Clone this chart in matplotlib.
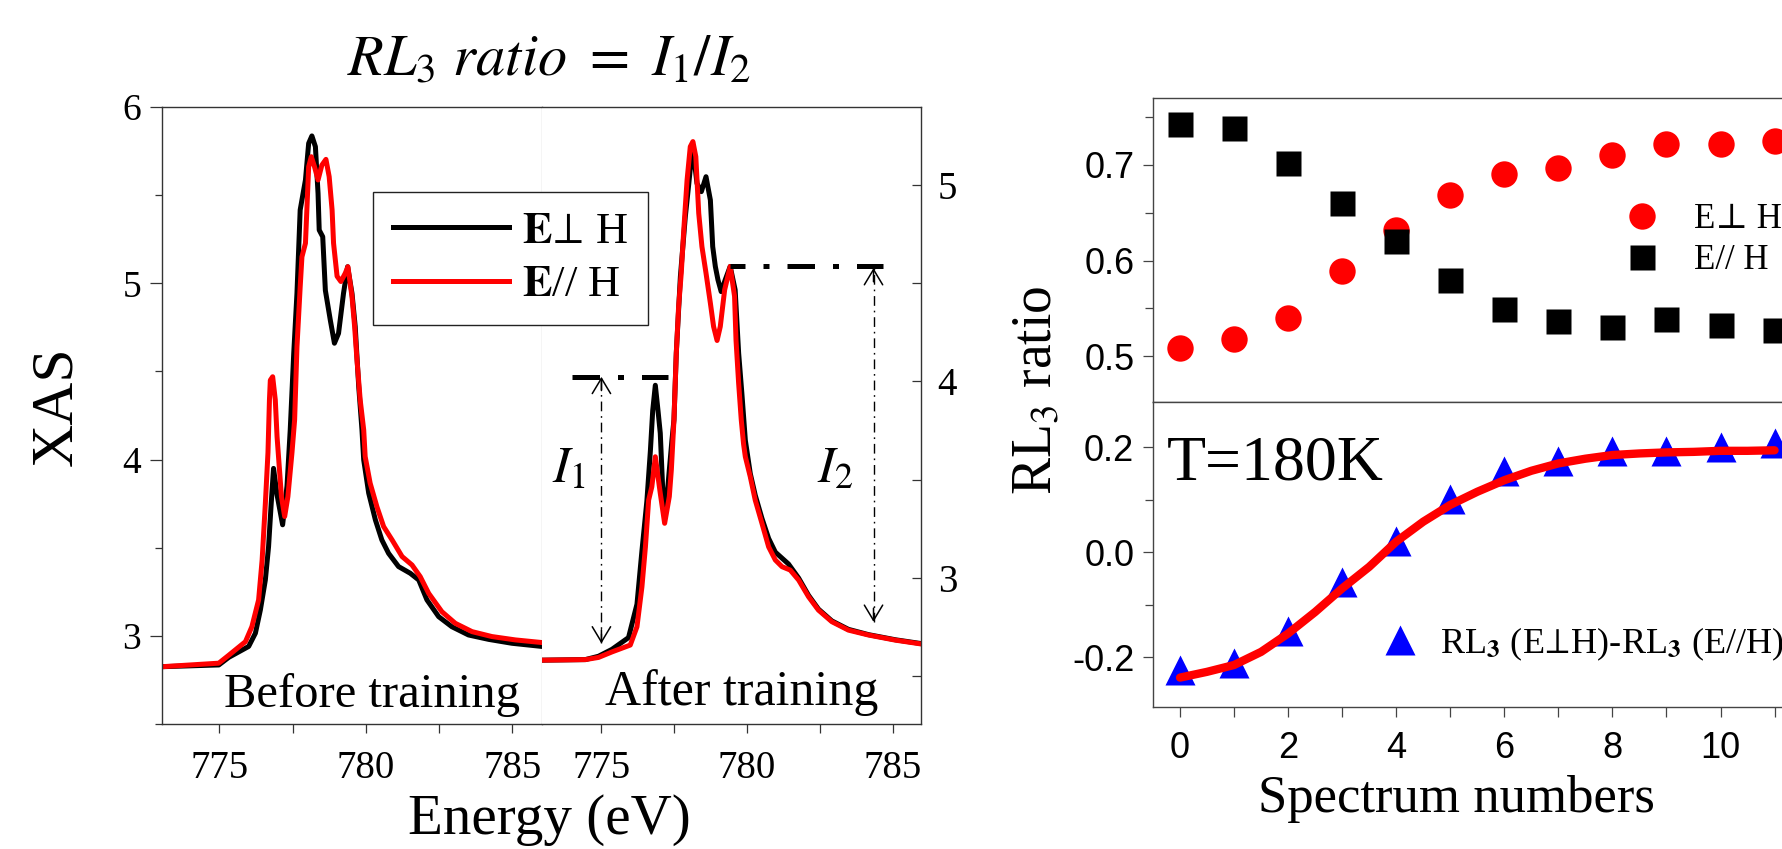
import matplotlib
matplotlib.use("Agg")
import matplotlib.pyplot as plt
from matplotlib.lines import Line2D

# ---------------- data ----------------
# Before training (left sub-panel)
bt_black_E = [773.04, 774.98, 775.32, 776.00, 776.23, 776.40, 776.57, 776.68, 776.77, 776.85,
              776.97, 777.16, 777.31, 777.42, 777.54, 777.65, 777.76, 777.94, 778.05, 778.16,
              778.28, 778.37, 778.41, 778.53, 778.62, 778.79, 778.93, 779.07, 779.24, 779.38,
              779.53, 779.64, 779.76, 779.87, 779.93, 780.10, 780.33, 780.55, 780.78, 781.12,
              781.52, 781.81, 782.09, 782.49, 782.94, 783.51, 784.20, 784.99, 786.02]
bt_black_I = [2.825, 2.835, 2.878, 2.940, 3.015, 3.147, 3.317, 3.506, 3.750, 3.950,
              3.800, 3.630, 3.850, 4.168, 4.603, 4.943, 5.416, 5.586, 5.794, 5.836,
              5.775, 5.510, 5.302, 5.264, 4.960, 4.790, 4.660, 4.716, 4.943, 5.094,
              4.943, 4.754, 4.413, 4.170, 3.998, 3.810, 3.657, 3.544, 3.468, 3.393,
              3.355, 3.317, 3.204, 3.109, 3.052, 3.005, 2.980, 2.958, 2.940]

bt_red_E = [773.04, 774.98, 775.32, 775.89, 776.11, 776.34, 776.46, 776.57, 776.66, 776.71,
            776.74, 776.82, 776.91, 776.97, 777.12, 777.23, 777.34, 777.48, 777.57, 777.65,
            777.76, 777.82, 777.94, 778.05, 778.14, 778.25, 778.37, 778.50, 778.64, 778.75,
            778.85, 778.90, 779.02, 779.15, 779.30, 779.39, 779.53, 779.62, 779.70, 779.81,
            779.93, 779.98, 780.15, 780.38, 780.61, 780.90, 781.24, 781.58, 781.86, 782.15,
            782.60, 783.06, 783.63, 784.31, 785.11, 786.02]
bt_red_I = [2.825, 2.845, 2.890, 2.967, 3.052, 3.204, 3.430, 3.750, 4.040, 4.338,
            4.450, 4.470, 4.338, 4.130, 3.790, 3.677, 3.790, 4.040, 4.225, 4.640,
            4.980, 5.150, 5.227, 5.661, 5.718, 5.661, 5.586, 5.670, 5.703, 5.605,
            5.416, 5.227, 5.040, 5.010, 5.057, 5.094, 4.924, 4.754, 4.565, 4.338,
            4.168, 4.017, 3.866, 3.733, 3.620, 3.544, 3.450, 3.402, 3.336, 3.241,
            3.137, 3.071, 3.024, 2.996, 2.977, 2.962]

# After training (right sub-panel)
at_black_E = [772.96, 774.45, 774.90, 775.36, 775.93, 776.22, 776.39, 776.56, 776.68, 776.76,
              776.85, 776.94, 777.02, 777.10, 777.17, 777.28, 777.42, 777.49, 777.57, 777.71,
              777.88, 778.00, 778.08, 778.16, 778.28, 778.43, 778.59, 778.74, 778.82, 778.91,
              779.00, 779.11, 779.25, 779.42, 779.59, 779.71, 779.82, 779.94, 780.11, 780.28,
              780.51, 780.74, 780.97, 781.42, 781.77, 782.11, 782.45, 782.91, 783.48, 784.17,
              785.09, 786.00]
at_black_I = [2.580, 2.583, 2.600, 2.635, 2.695, 2.865, 3.136, 3.390, 3.645, 3.850,
              3.980, 3.854, 3.736, 3.463, 3.310, 3.463, 3.700, 3.804, 4.144, 4.533,
              4.839, 5.008, 5.127, 5.161, 5.008, 4.966, 5.042, 4.923, 4.686, 4.585,
              4.517, 4.457, 4.517, 4.585, 4.466, 4.144, 3.940, 3.700, 3.530, 3.420,
              3.302, 3.200, 3.130, 3.070, 2.998, 2.910, 2.840, 2.780, 2.737, 2.710,
              2.684, 2.664]

at_red_E = [772.96, 774.45, 774.90, 775.36, 775.99, 776.22, 776.39, 776.51, 776.62, 776.73,
            776.85, 777.02, 777.17, 777.33, 777.40, 777.49, 777.57, 777.65, 777.74, 777.82,
            777.94, 778.05, 778.14, 778.24, 778.34, 778.45, 778.59, 778.74, 778.85, 778.97,
            779.08, 779.23, 779.42, 779.57, 779.62, 779.71, 779.80, 779.88, 779.94, 780.11,
            780.28, 780.51, 780.74, 780.97, 781.20, 781.48, 781.77, 782.11, 782.45, 782.91,
            783.48, 784.17, 785.09, 786.00]
at_red_I = [2.580, 2.583, 2.594, 2.622, 2.657, 2.750, 2.953, 3.157, 3.395, 3.463,
            3.616, 3.430, 3.277, 3.413, 3.550, 3.804, 4.144, 4.382, 4.551, 4.755,
            5.025, 5.195, 5.221, 5.144, 4.856, 4.686, 4.551, 4.398, 4.279, 4.208,
            4.279, 4.466, 4.585, 4.433, 4.210, 3.990, 3.804, 3.680, 3.616, 3.514,
            3.395, 3.277, 3.157, 3.090, 3.056, 3.039, 2.988, 2.903, 2.835, 2.776,
            2.733, 2.708, 2.682, 2.662]

# I1 / I2 markers (right sub-panel)
i1_line_E = [773.99, 777.28]
i1_level = 4.023
i1_arrow_E = 775.0
i1_arrow_low = 2.665
i2_line_E = [779.42, 784.68]
i2_level = 4.589
i2_arrow_E = 784.34
i2_arrow_low = 2.775

# RL3 ratio vs spectrum number
spectrum = [0, 1, 2, 3, 4, 5, 6, 7, 8, 9, 10, 11]
ratio_perp = [0.509, 0.518, 0.540, 0.589, 0.632, 0.669, 0.691, 0.697, 0.710, 0.722, 0.722, 0.725]
ratio_par = [0.743, 0.739, 0.702, 0.660, 0.620, 0.580, 0.549, 0.537, 0.530, 0.539, 0.533, 0.527]
ratio_diff = [-0.225, -0.212, -0.150, -0.057, 0.022, 0.102, 0.154, 0.173, 0.193, 0.193, 0.200, 0.208]
fit_x = [0, 0.5, 1, 1.5, 2, 2.5, 3, 3.5, 4, 4.5, 5, 5.5, 6, 6.5, 7, 7.5, 8, 8.5, 9, 9.5, 10, 10.5, 11]
fit_y = [-0.239, -0.228, -0.215, -0.190, -0.155, -0.114, -0.069, -0.028, 0.020, 0.058, 0.090, 0.115,
         0.137, 0.155, 0.169, 0.178, 0.185, 0.188, 0.190, 0.191, 0.193, 0.193, 0.194]

# ---------------- style ----------------
plt.rcParams["font.family"] = ["Liberation Serif", "DejaVu Serif"]
plt.rcParams["mathtext.fontset"] = "stix"

W, H = 1783, 849
fig = plt.figure(figsize=(W / 100, H / 100), dpi=100)


def fx(px):
    return px / W


def fy(py):
    return 1 - py / H


SP = "#333333"
PERP = "\u22a5"

# ---------------- left: XAS panels ----------------
ax1 = fig.add_axes([fx(162), fy(724), fx(380), 617 / H])
ax2 = fig.add_axes([fx(542), fy(724), fx(379), 617 / H])

ax1.plot(bt_black_E, bt_black_I, color="black", lw=3.6, solid_joinstyle="round")
ax1.plot(bt_red_E, bt_red_I, color="red", lw=3.6, solid_joinstyle="round")
ax2.plot(at_black_E, at_black_I, color="black", lw=3.6, solid_joinstyle="round")
ax2.plot(at_red_E, at_red_I, color="red", lw=3.6, solid_joinstyle="round")

ax1.set_xlim(773.04, 786.02)
ax1.set_ylim(2.5, 6.0)
ax2.set_xlim(772.96, 785.97)
ax2.set_ylim(2.255, 5.397)

for ax in (ax1, ax2):
    ax.set_xticks([775, 780, 785])
    ax.set_xticks([777.5, 782.5], minor=True)
    ax.tick_params(axis="x", which="both", direction="out", length=6.5, width=0.9,
                   labelsize=28, pad=12, color=SP)
    for s in ax.spines.values():
        s.set_color(SP)
        s.set_linewidth(1.0)

ax1.set_yticks([3, 4, 5, 6])
ax1.set_yticks([2.5, 3.5, 4.5, 5.5], minor=True)
ax1.tick_params(axis="y", which="major", direction="out", length=9, width=0.9,
                labelsize=27, pad=6, color=SP)
ax1.tick_params(axis="y", which="minor", direction="out", length=5, width=0.9, color=SP)
ax1.spines["right"].set_linewidth(0.8)
ax1.spines["right"].set_color("#555555")

ax2.spines["left"].set_visible(False)
ax2.yaxis.set_ticks_position("right")
ax2.set_yticks([3, 4, 5])
ax2.set_yticks([2.5, 3.5, 4.5], minor=True)
ax2.tick_params(axis="y", which="both", direction="in", length=6.5, width=0.9,
                labelsize=28, pad=12, color=SP)

# I1 / I2 annotations
dd_thick = (0, (5.5, 3.6, 1.2, 3.6))
ax2.plot(i1_line_E, [i1_level, i1_level], color="black", lw=3.6, linestyle=dd_thick,
         dash_capstyle="butt")
ax2.plot(i2_line_E, [i2_level, i2_level], color="black", lw=3.6, linestyle=(2.5, (5.5, 3.6, 1.2, 3.6)),
         dash_capstyle="butt")
dd_thin = (0, (7, 3.5, 1.2, 3.5))
for xe, lo, hi in ((i1_arrow_E, i1_arrow_low, i1_level), (i2_arrow_E, i2_arrow_low, i2_level - 0.012)):
    ax2.plot([xe, xe], [lo, hi], color="black", lw=1.0, linestyle=dd_thin)
    for tip, tail in ((lo, lo + 0.07), (hi, hi - 0.07)):
        ax2.annotate("", xy=(xe, tip), xytext=(xe, tail),
                     arrowprops=dict(arrowstyle="->,head_length=0.55,head_width=0.33",
                                     lw=1.1, color="black", shrinkA=0, shrinkB=0,
                                     mutation_scale=20))

ax2.text(773.30, 3.488, r"$I_1$", fontsize=37, ha="left", va="baseline")
ax2.text(782.40, 3.488, r"$I_2$", fontsize=37, ha="left", va="baseline")

fig.text(fx(520), fy(706.7), "Before training", fontsize=35, ha="right", va="baseline")
fig.text(fx(605), fy(705), "After training", fontsize=36, ha="left", va="baseline")

fig.text(fx(549), fy(76), r"$RL_3\ ratio\ =\ I_1/I_2$", fontsize=42, ha="center", va="baseline")
fig.text(fx(549), fy(834), "Energy (eV)", fontsize=41, ha="center", va="baseline")
fig.text(fx(57), fy(406), "XAS", fontsize=43, ha="center", va="center", rotation=90)

leg_handles = [Line2D([], [], color="black", lw=3.6), Line2D([], [], color="red", lw=3.6)]
leg = fig.legend(leg_handles, [r"$\mathbf{E}\!\perp\!$ H", r"$\mathbf{E}$// H"],
                 loc="upper left", bbox_to_anchor=(fx(373), fy(191.7)), borderaxespad=0,
                 fontsize=32, handlelength=2.6, handletextpad=0.3, labelspacing=0.3,
                 borderpad=0.45, fancybox=False, framealpha=1, edgecolor="#222222")
leg.get_frame().set_linewidth(1.0)

# ---------------- right: RL3 ratio ----------------
x_right = 12.5
axw = (1180 + x_right * 54.05 - 1153) / W
axT = fig.add_axes([fx(1153), fy(402), axw, 304 / H])
axB = fig.add_axes([fx(1153), fy(707), axw, 305 / H])

axT.plot(spectrum, ratio_perp, "o", color="red", ms=19, mec="none", label="E" + PERP + " H")
axT.plot(spectrum, ratio_par, "s", color="black", ms=18, mec="none", label="E// H")
axB.plot(spectrum, ratio_diff, "^", color="blue", ms=21.5, mec="none",
         label=r"RL$_{\mathbf{3}}$ (E$\!\perp\!$H)-RL$_{\mathbf{3}}$ (E//H)")
axB.plot(fit_x, fit_y, color="red", lw=6, solid_capstyle="round", zorder=3)

for ax in (axT, axB):
    ax.set_xlim(-0.5, x_right)
    for s in ax.spines.values():
        s.set_color("#444444")
        s.set_linewidth(1.0)
    ax.tick_params(which="major", length=7.5, width=0.9, color="#444444")
    ax.tick_params(which="minor", length=5.5, width=0.9, color="#444444")

axT.set_ylim(0.452, 0.770)
axT.set_xticks(range(0, 13))
axT.tick_params(axis="x", labelbottom=False, length=7.5)
axT.set_yticks([0.5, 0.6, 0.7])
axT.set_yticks([0.55, 0.65, 0.75], minor=True)
axT.set_yticklabels(["0.5", "0.6", "0.7"], fontfamily="Liberation Sans", fontsize=26)
axT.tick_params(axis="y", pad=6)

axB.set_ylim(-0.295, 0.286)
axB.set_xticks([0, 2, 4, 6, 8, 10, 12])
axB.set_xticks([1, 3, 5, 7, 9, 11], minor=True)
axB.set_xticklabels(["0", "2", "4", "6", "8", "10", "12"], fontfamily="Liberation Sans", fontsize=26)
axB.tick_params(axis="x", which="both", length=7.5, pad=10)
axB.set_yticks([-0.2, 0.0, 0.2])
axB.set_yticks([-0.1, 0.1], minor=True)
axB.set_yticklabels(["-0.2", "0.0", "0.2"], fontfamily="Liberation Sans", fontsize=26)
axB.tick_params(axis="y", pad=6)

axT.legend(loc="center left", bbox_to_anchor=(fx(1625), fy(240)), bbox_transform=fig.transFigure,
           frameon=False, fontsize=25, handlelength=1.0, handletextpad=1.0, labelspacing=0.25,
           borderpad=0, borderaxespad=0, markerscale=1.0)
axB.legend(loc="center left", bbox_to_anchor=(fx(1382), fy(644)), bbox_transform=fig.transFigure,
           frameon=False, fontsize=26, handlelength=1.0, handletextpad=0.62,
           borderpad=0, borderaxespad=0)

fig.text(fx(1167), fy(479), "T=180K", fontsize=46, ha="left", va="baseline")
fig.text(fx(1456), fy(812), "Spectrum numbers", fontsize=38, ha="center", va="baseline")
fig.text(fx(1037), fy(390), r"RL$_3$ ratio", fontsize=40, ha="center", va="center", rotation=90)

fig.savefig("out.png", dpi=100)
